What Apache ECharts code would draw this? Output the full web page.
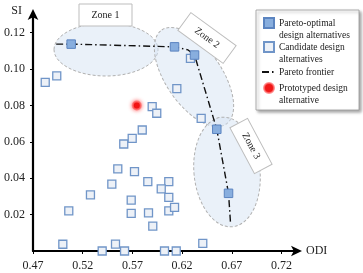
<!DOCTYPE html>
<html><head><meta charset="utf-8">
<script src="https://cdn.jsdelivr.net/npm/echarts@6/dist/echarts.min.js"></script>
<style>html,body{margin:0;padding:0;background:#fff}#c{width:363px;height:273px}</style>
</head><body><div id="c"></div>
<script>
const xTicks = [0.47, 0.52, 0.57, 0.62, 0.67, 0.72];
const yTicks = [0.02, 0.04, 0.06, 0.08, 0.10, 0.12];

const paretoODI = [0.5084, 0.6124, 0.6325, 0.6549, 0.6667];
const paretoSI  = [0.1137, 0.1122, 0.1077, 0.0669, 0.0317];

const frontierODI = [0.4933, 0.5084, 0.6124, 0.6260, 0.6325, 0.6549, 0.6667, 0.6687];
const frontierSI  = [0.1137, 0.1137, 0.1122, 0.1105, 0.1077, 0.0669, 0.0317, 0.0154];

const candidateODI = [0.4823, 0.4939, 0.6284, 0.6147, 0.5899, 0.5945, 0.5799, 0.6392,
  0.5613, 0.5698, 0.5553, 0.5721, 0.5493, 0.5278, 0.5688, 0.5060, 0.5688, 0.5000,
  0.5530, 0.5396, 0.5621, 0.5855, 0.6066, 0.5990, 0.6066, 0.5862, 0.6066, 0.6124,
  0.5905, 0.6408, 0.6023, 0.6141];
const candidateSI = [0.0927, 0.0962, 0.1059, 0.0892, 0.0793, 0.0757, 0.0665, 0.0729,
  0.0588, 0.0619, 0.0451, 0.0436, 0.0368, 0.0308, 0.0280, 0.0221, 0.0207, 0.0037,
  0.0038, 0.0000, 0.0000, 0.0381, 0.0381, 0.0341, 0.0295, 0.0210, 0.0221, 0.0240,
  0.0137, 0.0042, 0.0000, 0.0000];

const prototypeODI = [0.5744];
const prototypeSI  = [0.0800];

const seriesNames = ['Pareto-optimal design alternatives', 'Candidate design alternatives', 'Pareto frontier', 'Prototyped design alternative'];
const legendLines = {
  'Pareto-optimal design alternatives': '\nPareto-optimal\ndesign alternatives',
  'Candidate design alternatives': '\nCandidate design\nalternatives',
  'Pareto frontier': 'Pareto frontier',
  'Prototyped design alternative': '\nPrototyped design\nalternative'
};
const zoneNames = ['Zone 1', 'Zone 2', 'Zone 3'];

const zip = (a, b) => a.map((v, i) => [v, b[i]]);
const FONT = 'Liberation Serif';

const chart = echarts.init(document.getElementById('c'), null, {renderer: 'canvas'});

const legendBase = {
  orient: 'vertical', padding: 0, itemGap: 0,
  itemHeight: 10, selectedMode: false, z: 6,
  formatter: n => legendLines[n],
  textStyle: {fontFamily: FONT, fontSize: 9.5, color: '#222', lineHeight: 12}
};
function mkLegend(name, left, top, itemWidth) {
  return Object.assign({}, legendBase, {left: left, top: top, itemWidth: itemWidth, data: [name]});
}

const zoneFill = 'rgba(214,227,243,0.5)';
const zoneStroke = '#b0b0b0';
function zoneLabel(x, y, rot, w, h, text) {
  return {
    type: 'group', x: x, y: y, rotation: rot, z: 10,
    children: [
      {type: 'rect', shape: {x: -w / 2, y: -h / 2, width: w, height: h},
       style: {fill: '#fff', stroke: '#bdbdbd', lineWidth: 1}, z: 10},
      {type: 'text', style: {text: text, x: 0, y: 0, align: 'center', verticalAlign: 'middle',
        font: '10px "' + FONT + '"', fill: '#222'}, z: 11}
    ]
  };
}

chart.setOption({
  animation: false,
  backgroundColor: '#fff',
  grid: {left: 33, right: 65, top: 13, bottom: 22, containLabel: false},
  xAxis: {
    type: 'value', min: 0.47, max: 0.7366,
    name: 'ODI', nameLocation: 'end', nameGap: 8,
    nameTextStyle: {fontFamily: FONT, fontSize: 12, color: '#222', verticalAlign: 'middle'},
    axisLine: {show: true, lineStyle: {color: '#000', width: 2.2}, symbol: ['none', 'arrow'], symbolSize: [8, 11], symbolOffset: [0, 4]},
    axisTick: {show: true, length: 3, lineStyle: {color: '#000', width: 1}, customValues: xTicks},
    axisLabel: {customValues: xTicks, formatter: v => v.toFixed(2), fontFamily: FONT, fontSize: 12, color: '#222', margin: 9},
    splitLine: {show: false}
  },
  yAxis: {
    type: 'value', min: 0, max: 0.1308,
    name: 'SI', nameLocation: 'end', nameGap: 2,
    nameTextStyle: {fontFamily: FONT, fontSize: 12, color: '#222', align: 'right', verticalAlign: 'middle', padding: [0, 11, 0, 0]},
    axisLine: {show: true, lineStyle: {color: '#000', width: 2.2}, symbol: ['none', 'arrow'], symbolSize: [8, 11], symbolOffset: [0, 4]},
    axisTick: {show: true, length: 3, lineStyle: {color: '#000', width: 1}, customValues: yTicks},
    axisLabel: {customValues: yTicks, formatter: v => v.toFixed(2), fontFamily: FONT, fontSize: 12, color: '#222', margin: 8},
    splitLine: {show: false}
  },
  legend: [
    mkLegend(seriesNames[0], 263, 5, 10),
    mkLegend(seriesNames[1], 263, 29, 10),
    mkLegend(seriesNames[2], 261, 66, 12),
    mkLegend(seriesNames[3], 263, 70, 10)
  ],
  graphic: [
    {type: 'ellipse', shape: {cx: 106, cy: 49.5, rx: 52, ry: 26.5}, z: 0,
     style: {fill: zoneFill, stroke: zoneStroke, lineWidth: 1, lineDash: [3, 2]}},
    {type: 'ellipse', x: 194, y: 77, rotation: -0.97, shape: {cx: 0, cy: 0, rx: 57, ry: 28}, z: 0,
     style: {fill: zoneFill, stroke: zoneStroke, lineWidth: 1, lineDash: [3, 2]}},
    {type: 'ellipse', x: 227, y: 172, rotation: 0.1, shape: {cx: 0, cy: 0, rx: 33, ry: 55}, z: 0,
     style: {fill: zoneFill, stroke: zoneStroke, lineWidth: 1, lineDash: [3, 2]}},
    zoneLabel(105.5, 15, 0, 53, 22, zoneNames[0]),
    zoneLabel(207, 38, -0.63, 56, 22, zoneNames[1]),
    zoneLabel(251, 146, -1.08, 52, 20, zoneNames[2]),
    {type: 'rect', shape: {x: 256, y: 10, width: 103, height: 100}, z: 3,
     style: {fill: '#fff', stroke: '#9a9a9a', lineWidth: 0.8,
       shadowBlur: 3, shadowOffsetX: 2, shadowOffsetY: 2, shadowColor: 'rgba(0,0,0,0.35)'}}
  ],
  series: [
    {name: seriesNames[2], type: 'line', data: zip(frontierODI, frontierSI), symbol: 'none', z: 3,
     itemStyle: {color: 'rgba(0,0,0,0)', borderWidth: 0},
     lineStyle: {color: '#111', width: 1.4, type: [7, 3, 1.5, 3]}},
    {name: seriesNames[1], type: 'scatter', data: zip(candidateODI, candidateSI), symbol: 'rect', symbolSize: 8, clip: false, z: 4,
     itemStyle: {color: '#edf1f7', borderColor: '#7095c8', borderWidth: 1.3, opacity: 1}},
    {name: seriesNames[0], type: 'scatter', data: zip(paretoODI, paretoSI), symbol: 'rect', symbolSize: 8.5, clip: false, z: 5,
     itemStyle: {color: '#88aede', borderColor: '#5b84c0', borderWidth: 1, opacity: 1}},
    {name: seriesNames[3], type: 'scatter', data: zip(prototypeODI, prototypeSI), symbol: 'circle', symbolSize: 8, clip: false, z: 5,
     itemStyle: {color: '#f01818', borderColor: 'rgba(255,110,110,0.75)', borderWidth: 2,
       shadowBlur: 4, shadowColor: 'rgba(255,0,0,0.6)', opacity: 1}}
  ]
});
</script>
</body></html>
